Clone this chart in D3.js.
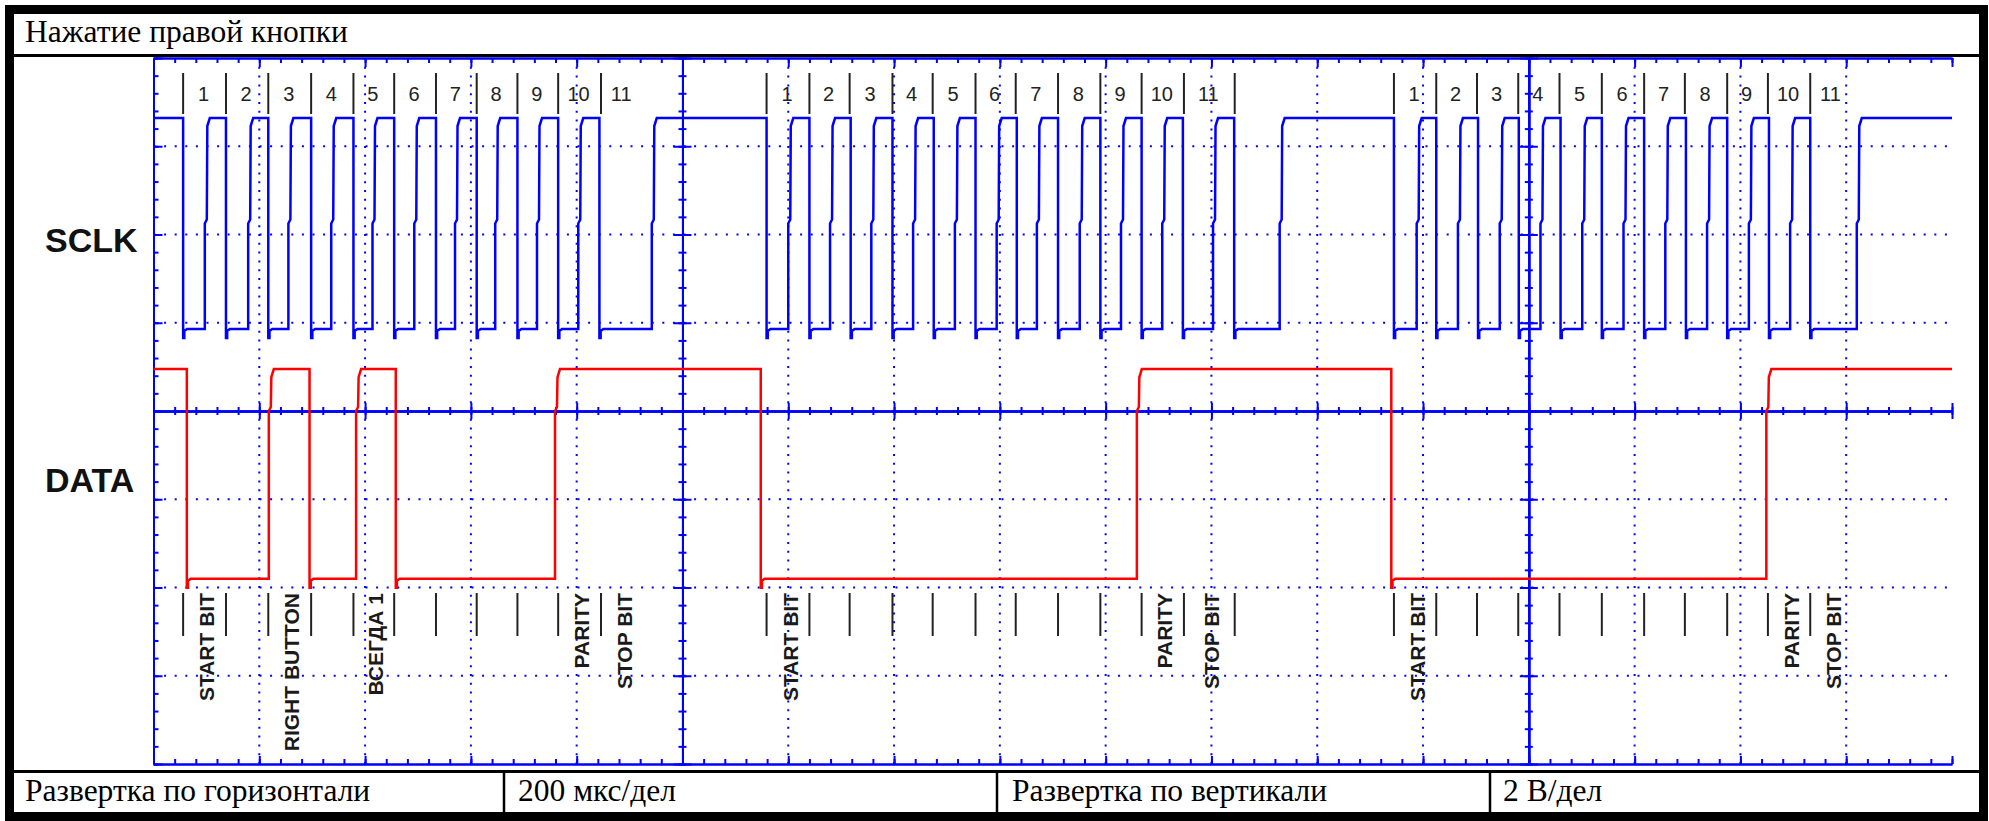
<!DOCTYPE html>
<html>
<head>
<meta charset="utf-8">
<script src="https://cdn.jsdelivr.net/npm/d3@7"></script>
<style>
	body { margin: 0; background: #fff; }
	svg { display: block; }
</style>
</head>
<body>
<script>
// --- data -------------------------------------------------------------
const title = "Нажатие правой кнопки";
const footerTexts = ["Развертка по горизонтали", "200 мкс/дел", "Развертка по вертикали", "2 В/дел"];
const channelNames = ["SCLK", "DATA"];

// time axis in µs (200 µs/div, 17 div), volts (2 V/div, 8 div)
const timeDomain = [0, 3400];
const voltDomain = [-8, 8];

// trace levels in volts [low, high] as shown on screen (with channel offset)
const sclkLevels = [1.86, 6.64];
const dataLevels = [-3.8, 0.95];

// edge times (µs); both traces start high, every edge toggles the level
const sclkEdges = [
	56, 97, 137, 179, 217, 255, 298, 336, 378, 414, 455, 493, 534, 570, 611, 646, 688, 725, 765, 803, 843, 942,
	1159, 1200, 1240, 1279, 1318, 1357, 1397, 1436, 1475, 1515, 1554, 1594, 1632, 1670, 1710, 1751, 1790, 1829,
	1868, 1907, 1946, 2003, 2043, 2129,
	2345, 2388, 2425, 2466, 2504, 2545, 2581, 2622, 2660, 2701, 2738, 2779, 2818, 2858, 2897, 2937, 2975, 3016,
	3054, 3094, 3132, 3220
];
const dataEdges = [63, 218, 295, 383, 458, 759, 1148, 1859, 2340, 3049];

// bit boundary markers (µs) for the three packets
const markersPacket1 = [56, 137, 217, 298, 378, 455, 534, 611, 688, 765, 846];
const markersPacket2 = [1159, 1240, 1316, 1397, 1473, 1554, 1630, 1710, 1790, 1868, 1948, 2044];
const markersPacket3 = [2345, 2425, 2502, 2580, 2658, 2738, 2818, 2895, 2975, 3052, 3132];
const bitNumbers = ["1", "2", "3", "4", "5", "6", "7", "8", "9", "10", "11"];

// [packet, bit index, text]
const bitNotes = [
	[0, 0, "START BIT"], [0, 2, "RIGHT BUTTON"], [0, 4, "ВСЕГДА 1"], [0, 9, "PARITY"], [0, 10, "STOP BIT"],
	[1, 0, "START BIT"], [1, 9, "PARITY"], [1, 10, "STOP BIT"],
	[2, 0, "START BIT"], [2, 9, "PARITY"], [2, 10, "STOP BIT"]
];

// --- layout -----------------------------------------------------------
const W = 1989, H = 821;
const plot = { left: 153.5, right: 1952, top: 58, bottom: 764 };
const BLUE = "#0000ff", RED = "#ff0000";
const SERIF = "'Liberation Serif', 'Times New Roman', serif";
const SANS = "'Liberation Sans', Arial, sans-serif";

const svg = d3.select("body").append("svg")
	.attr("width", W)
	.attr("height", H)
	.style("background", "#fff");

const x = d3.scaleLinear().domain(timeDomain).range([plot.left, plot.right]);
const y = d3.scaleLinear().domain(voltDomain).range([plot.bottom, plot.top]);

// dotted grid
const gridT = d3.range(200, 3400, 200).filter(t => t !== 1000 && t !== 2600);
const gridV = [-6, -4, -2, 2, 4, 6];

svg.append("g").selectAll("line").data(gridT).join("line")
	.attr("x1", d => x(d)).attr("x2", d => x(d))
	.attr("y1", plot.top).attr("y2", plot.bottom)
	.attr("stroke", BLUE).attr("stroke-width", 2)
	.attr("stroke-dasharray", "2 6.8");

svg.append("g").selectAll("line").data(gridV).join("line")
	.attr("x1", plot.left).attr("x2", plot.right)
	.attr("y1", d => y(d)).attr("y2", d => y(d))
	.attr("stroke", BLUE).attr("stroke-width", 2)
	.attr("stroke-dasharray", "2 8.6");

// solid axes with ticks
const minorT = d3.range(0, 3401, 40);
const majorT = d3.range(0, 3401, 200);
const minorV = d3.range(-8, 8.01, 0.4);
const majorV = d3.range(-8, 8.01, 2);

function addAxis(axisFn, scale, values, size, transform) {
	svg.append("g")
		.attr("transform", transform)
		.call(axisFn(scale).tickValues(values).tickSize(size).tickSizeOuter(0).tickFormat(""))
		.call(g => g.selectAll("line, path").attr("stroke", BLUE).attr("stroke-width", 2));
}

// frame edges
addAxis(d3.axisRight, y, minorV, 5, `translate(${plot.left},0)`);
addAxis(d3.axisRight, y, majorV, 9, `translate(${plot.left},0)`);
addAxis(d3.axisBottom, x, minorT, 5, `translate(0,${plot.top})`);
addAxis(d3.axisBottom, x, majorT, 9, `translate(0,${plot.top})`);
addAxis(d3.axisTop, x, minorT, 5, `translate(0,${plot.bottom})`);
addAxis(d3.axisTop, x, majorT, 8, `translate(0,${plot.bottom})`);

// centre horizontal axis
addAxis(d3.axisTop, x, minorT, 4, `translate(0,${y(0)})`);
addAxis(d3.axisBottom, x, minorT, 4, `translate(0,${y(0)})`);
addAxis(d3.axisTop, x, majorT, 8, `translate(0,${y(0)})`);
addAxis(d3.axisBottom, x, majorT, 8, `translate(0,${y(0)})`);

// centre vertical axes
[1000, 2600].forEach(t => {
	addAxis(d3.axisLeft, y, minorV, 4, `translate(${x(t)},0)`);
	addAxis(d3.axisRight, y, minorV, 4, `translate(${x(t)},0)`);
	addAxis(d3.axisLeft, y, majorV, 9, `translate(${x(t)},0)`);
	addAxis(d3.axisRight, y, majorV, 9, `translate(${x(t)},0)`);
});

// traces
function tracePoints(edges, levels, risePart) {
	let lvl = 1;
	const pts = [[x(timeDomain[0]), y(levels[lvl])]];
	edges.forEach(t => {
		const xe = x(t);
		const yFrom = y(levels[lvl]);
		const yTo = y(levels[1 - lvl]);
		if (lvl === 1) {
			// falling edge with a small undershoot
			pts.push([xe, yFrom], [xe, yTo + 9], [xe + 1.2, yTo + 9], [xe + 1.2, yTo + 2], [xe + 4, yTo]);
		} else {
			// slow rising edge, in steps
			const ym = yFrom + (yTo - yFrom) * risePart;
			pts.push([xe, yFrom], [xe, ym], [xe + 2, ym - 4], [xe + 2.5, yTo + 8], [xe + 5, yTo]);
		}
		lvl = 1 - lvl;
	});
	pts.push([x(timeDomain[1]), y(levels[lvl])]);
	return pts;
}

const line = d3.line();

svg.append("path")
	.attr("d", line(tracePoints(sclkEdges, sclkLevels, 0.5)))
	.attr("fill", "none")
	.attr("stroke", BLUE)
	.attr("stroke-width", 2.5);

svg.append("path")
	.attr("d", line(tracePoints(dataEdges, dataLevels, 0.8)))
	.attr("fill", "none")
	.attr("stroke", RED)
	.attr("stroke-width", 2.5);

// bit markers, numbers and notes
const packets = [markersPacket1, markersPacket2, markersPacket3];
const bitCentre = (m, i) => (i + 1 < m.length ? (m[i] + m[i + 1]) / 2 : m[i] + 40);

const marks = svg.append("g");
packets.forEach(m => {
	m.forEach(t => {
		marks.append("line")
			.attr("x1", x(t)).attr("x2", x(t))
			.attr("y1", 73).attr("y2", 114)
			.attr("stroke", "#222").attr("stroke-width", 2);
		marks.append("line")
			.attr("x1", x(t)).attr("x2", x(t))
			.attr("y1", 593).attr("y2", 636)
			.attr("stroke", "#222").attr("stroke-width", 2);
	});
	bitNumbers.forEach((n, i) => {
		marks.append("text")
			.attr("x", x(bitCentre(m, i)) - 1)
			.attr("y", 101)
			.attr("text-anchor", "middle")
			.attr("font-family", SANS)
			.attr("font-size", "20px")
			.attr("fill", "#222")
			.text(n);
	});
});

bitNotes.forEach(([p, i, txt]) => {
	const cx = x(bitCentre(packets[p], i)) + 9.5;
	marks.append("text")
		.attr("transform", `translate(${cx},593) rotate(-90)`)
		.attr("text-anchor", "end")
		.attr("font-family", SANS)
		.attr("font-weight", "bold")
		.attr("font-size", "21px")
		.attr("fill", "#1a1a1a")
		.text(txt);
});

// channel names
[[channelNames[0], 252], [channelNames[1], 492]].forEach(([name, yy]) => {
	svg.append("text")
		.attr("x", 45)
		.attr("y", yy)
		.attr("font-family", SANS)
		.attr("font-weight", "bold")
		.attr("font-size", "34px")
		.attr("fill", "#111")
		.text(name);
});

// frame and table
const frame = svg.append("g").attr("fill", "none").attr("stroke", "#000");
frame.append("line").attr("x1", 14).attr("x2", 1979).attr("y1", 55.5).attr("y2", 55.5).attr("stroke-width", 3);
frame.append("line").attr("x1", 14).attr("x2", 1979).attr("y1", 771.5).attr("y2", 771.5).attr("stroke-width", 3);
[504, 997, 1490].forEach(xx => {
	frame.append("line").attr("x1", xx).attr("x2", xx).attr("y1", 772).attr("y2", 813).attr("stroke-width", 2.5);
});
frame.append("rect")
	.attr("x", 9.5).attr("y", 9.5)
	.attr("width", 1974).attr("height", 807)
	.attr("stroke-width", 9);

svg.append("text")
	.attr("x", 25)
	.attr("y", 42)
	.attr("font-family", SERIF)
	.attr("font-size", "31.5px")
	.attr("fill", "#000")
	.text(title);

const footerX = [25, 518, 1012, 1503];
footerTexts.forEach((t, i) => {
	svg.append("text")
		.attr("x", footerX[i])
		.attr("y", 801)
		.attr("font-family", SERIF)
		.attr("font-size", "31.5px")
		.attr("fill", "#000")
		.text(t);
});
</script>
</body>
</html>
